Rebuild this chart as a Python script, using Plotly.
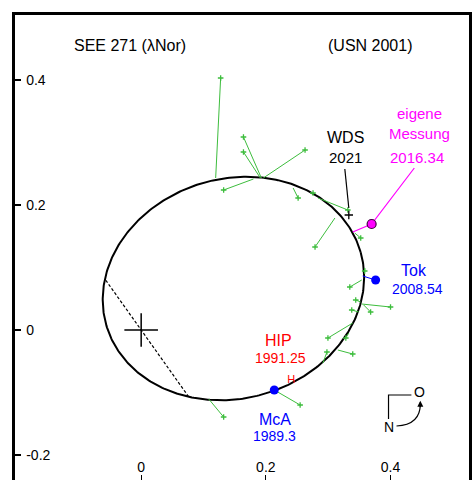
import numpy as np
import plotly.graph_objects as go

# Apparent orbit of SEE 271 (lambda Nor): ellipse parameters (arcsec, degrees)
orbit_center = (0.148, 0.0664)
orbit_semi_major = 0.2122
orbit_semi_minor = 0.1758
orbit_tilt_deg = 15.9
node_angle_deg = 125.5

# Residuals: predicted positions on the orbit and the measured positions
model_x = [0.1195, 0.1928, 0.1912, 0.1960, 0.1801, 0.2438, 0.2709, 0.2837, 0.3108, 0.3426, 0.3586,
           0.3538, 0.3522, 0.3538, 0.3570, 0.3490, 0.3394, 0.3331, 0.3155, 0.2916, 0.2135, 0.1084]
model_y = [0.2432, 0.2432, 0.2432, 0.2432, 0.2416, 0.2272, 0.2192, 0.2112, 0.1792, 0.1552, 0.0992,
           0.0800, 0.0448, 0.0416, 0.0400, 0.0288, 0.0112, -0.0048, -0.0320, -0.0528, -0.0960, -0.1104]
obs_x = [0.1275, 0.1641, 0.1641, 0.2629, 0.1323, 0.2518, 0.2757, 0.3315, 0.2789, 0.3522, 0.3586,
         0.3347, 0.3442, 0.4000, 0.3681, 0.3378, 0.2996, 0.3283, 0.3394, 0.2980, 0.2550, 0.1323]
obs_y = [0.4032, 0.3088, 0.2848, 0.2880, 0.2240, 0.2112, 0.2192, 0.1920, 0.1328, 0.1472, 0.0944,
         0.0688, 0.0480, 0.0368, 0.0288, 0.0320, -0.0128, -0.0128, -0.0384, -0.0352, -0.1200, -0.1392]

# Highlighted measurements
own_model = (0.3394, 0.1568)
own_obs = (0.3697, 0.1696)
own_label_anchor = (0.4382, 0.2592)
tok_model = (0.3554, 0.0864)
tok_obs = (0.3761, 0.0800)
mca_obs = (0.2135, -0.0960)
hip_pos = (0.2406, -0.0800)
wds_pos = (0.3331, 0.1840)
wds_leader = ([0.3267, 0.3331], [0.2576, 0.1952])

x_ticks = [0, 0.2, 0.4]
x_tick_text = ["0", "0.2", "0.4"]
y_ticks = [-0.2, 0, 0.2, 0.4]
y_tick_text = ["-0.2", "0", "0.2", "0.4"]

GREEN = "#3dbd3d"
MAGENTA = "#ff00ff"
BLUE = "#0000ff"
RED = "#ff0000"
FONT = "Arial, Liberation Sans, sans-serif"

# Orbit curve
th = np.radians(orbit_tilt_deg)
t = np.linspace(0, 2 * np.pi, 400)
cx, cy = orbit_center
a, b = orbit_semi_major, orbit_semi_minor
ell_x = cx + a * np.cos(t) * np.cos(th) - b * np.sin(t) * np.sin(th)
ell_y = cy + a * np.cos(t) * np.sin(th) + b * np.sin(t) * np.cos(th)

# Line of nodes: intersections of the line through the primary with the orbit
phi = np.radians(node_angle_deg)
u = np.array([np.cos(phi), np.sin(phi)])
rot = np.array([[np.cos(th), np.sin(th)], [-np.sin(th), np.cos(th)]])
ul = rot @ u
cl = rot @ np.array([cx, cy])
qa = ul[0] ** 2 / a ** 2 + ul[1] ** 2 / b ** 2
qb = -2 * (ul[0] * cl[0] / a ** 2 + ul[1] * cl[1] / b ** 2)
qc = cl[0] ** 2 / a ** 2 + cl[1] ** 2 / b ** 2 - 1
roots = np.roots([qa, qb, qc]).real
node_x = [r * u[0] for r in roots]
node_y = [r * u[1] for r in roots]

res_x, res_y = [], []
for mx, my, ox, oy in zip(model_x, model_y, obs_x, obs_y):
    res_x += [mx, ox, None]
    res_y += [my, oy, None]

fig = go.Figure()
fig.add_trace(go.Scatter(x=ell_x, y=ell_y, mode="lines",
                         line=dict(color="black", width=2), hoverinfo="skip"))
fig.add_trace(go.Scatter(x=node_x, y=node_y, mode="lines",
                         line=dict(color="black", width=1.2, dash="3px,2px")))
fig.add_trace(go.Scatter(x=res_x, y=res_y, mode="lines",
                         line=dict(color=GREEN, width=1)))
fig.add_trace(go.Scatter(x=obs_x, y=obs_y, mode="markers",
                         marker=dict(symbol="cross-thin", size=4,
                                     line=dict(color=GREEN, width=1.3))))
# own measurement
fig.add_trace(go.Scatter(x=[own_model[0], own_obs[0], own_label_anchor[0]],
                         y=[own_model[1], own_obs[1], own_label_anchor[1]],
                         mode="lines", line=dict(color=MAGENTA, width=1.2)))
fig.add_trace(go.Scatter(x=[own_obs[0]], y=[own_obs[1]], mode="markers",
                         marker=dict(size=9, color=MAGENTA,
                                     line=dict(color="#400040", width=1.2))))
# Tok and McA
fig.add_trace(go.Scatter(x=[tok_model[0], tok_obs[0]], y=[tok_model[1], tok_obs[1]],
                         mode="lines", line=dict(color=BLUE, width=1)))
fig.add_trace(go.Scatter(x=[tok_obs[0], mca_obs[0]], y=[tok_obs[1], mca_obs[1]],
                         mode="markers", marker=dict(size=9, color=BLUE)))
# HIP marker
fig.add_trace(go.Scatter(x=[hip_pos[0]], y=[hip_pos[1]], mode="text", text=["H"],
                         textfont=dict(color=RED, size=11, family=FONT)))
# WDS 2021
fig.add_trace(go.Scatter(x=wds_leader[0], y=wds_leader[1], mode="lines",
                         line=dict(color="black", width=1.2)))
fig.add_trace(go.Scatter(x=[wds_pos[0]], y=[wds_pos[1]], mode="markers",
                         marker=dict(symbol="cross-thin", size=6,
                                     line=dict(color="black", width=1.3))))
# primary star
fig.add_trace(go.Scatter(x=[0], y=[0], mode="markers",
                         marker=dict(symbol="cross-thin", size=24,
                                     line=dict(color="black", width=1.5))))


def label(x, y, text, color="black", size=15, anchor="center"):
    fig.add_annotation(x=x, y=y, text=text, showarrow=False, xanchor=anchor,
                       yanchor="middle", font=dict(family=FONT, size=size, color=color))


label(-0.1116, 0.456, "SEE 271 (λNor)", size=16, anchor="left")
label(0.2964, 0.456, "(USN 2001)", size=16, anchor="left")
label(0.4462, 0.3472, "eigene", MAGENTA)
label(0.4462, 0.3152, "Messung", MAGENTA)
label(0.4430, 0.2768, "2016.34", MAGENTA)
label(0.3283, 0.3088, "WDS", size=16)
label(0.3283, 0.2768, "2021")
label(0.4382, 0.0960, "Tok", BLUE, size=16)
label(0.4430, 0.0656, "2008.54", BLUE, size=14)
label(0.2199, -0.0160, "HIP", RED, size=16)
label(0.2231, -0.0448, "1991.25", RED, size=14)
label(0.2151, -0.1424, "McA", BLUE, size=16)
label(0.2135, -0.1696, "1989.3", BLUE, size=14)

# orientation sign (N / O)
label(0.4462, -0.0992, "O", size=14)
label(0.3968, -0.1552, "N", size=14)
fig.add_shape(type="path", path="M 0.3968,-0.1424 L 0.3968,-0.104 L 0.4335,-0.104",
              line=dict(color="black", width=1.2))
fig.add_shape(type="path", path="M 0.4096,-0.1536 Q 0.4478,-0.152 0.4478,-0.1180",
              line=dict(color="black", width=1.2))
fig.add_annotation(x=0.4478, y=-0.1130, ax=0, ay=8, text="", showarrow=True,
                   arrowhead=2, arrowsize=1, arrowwidth=1.2, arrowcolor="black")

L, T, W, H = 15, 15, 472, 480
x0, px_per_x = 142, 627.5
y0, px_per_y = 330, 625
fig.update_layout(
    width=W, height=H, showlegend=False,
    margin=dict(l=L, r=0, t=T, b=0, pad=0),
    paper_bgcolor="white", plot_bgcolor="white",
    xaxis=dict(range=[(L - x0) / px_per_x, (W - x0) / px_per_x],
               tickvals=x_ticks, ticktext=x_tick_text, ticks="inside", ticklen=5,
               tickwidth=1, tickcolor="black", ticklabelposition="inside",
               tickfont=dict(family=FONT, size=14, color="black"),
               showgrid=False, zeroline=False, showline=True, linewidth=3,
               linecolor="black", mirror=True),
    yaxis=dict(range=[(y0 - H) / px_per_y, (y0 - T) / px_per_y],
               tickvals=y_ticks, ticktext=y_tick_text, ticks="inside", ticklen=6,
               tickwidth=1.5, tickcolor="black", ticklabelposition="inside",
               ticklabelstandoff=5,
               tickfont=dict(family=FONT, size=14, color="black"),
               showgrid=False, zeroline=False, showline=True, linewidth=3,
               linecolor="black", mirror=True),
)

fig.write_html("out.html")
